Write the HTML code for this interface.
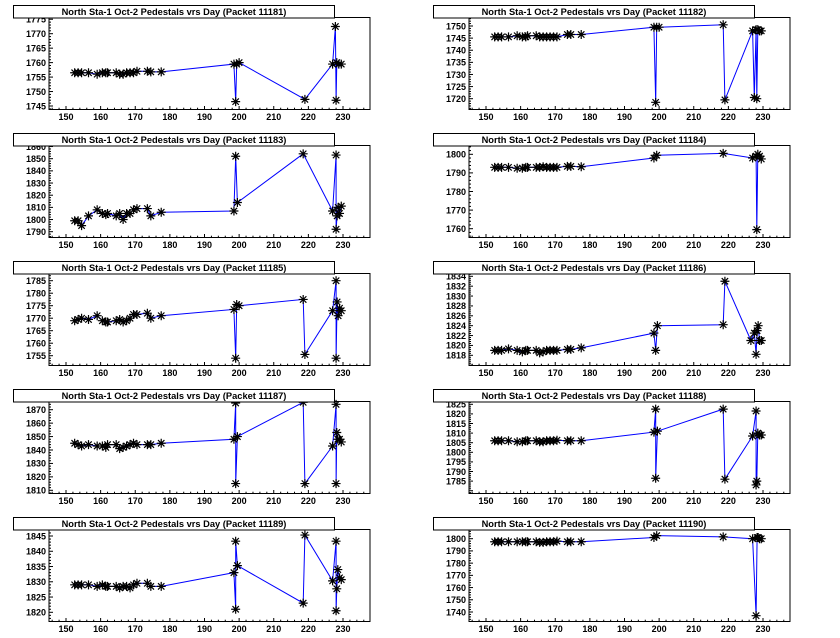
<!DOCTYPE html>
<html><head><meta charset="utf-8">
<style>
html,body{margin:0;padding:0;background:#fff;}
svg{display:block;}
text{font-family:"Liberation Sans",Arial,sans-serif;font-weight:bold;}
</style></head>
<body>
<svg id="s" width="840" height="638" viewBox="0 0 840 638" xmlns="http://www.w3.org/2000/svg"></svg>
<script>
const NS="http://www.w3.org/2000/svg";
const S=document.getElementById('s');
function el(t,a,p){const e=document.createElementNS(NS,t);for(const k in a)e.setAttribute(k,a[k]);(p||S).appendChild(e);return e;}
const early=[152.5,153.5,154.5,156.5,159,160.5,161.5,162,164.5,165.5,166.5,167.5,168.5,169.5,170.5,173.5,174.5,177.5];
const P=[
 {id:11181,y1:1770,p1:33.7,y2:1745,p2:106,st:5,b:[1756.5,1756.5,1756.5,1756.5,1756,1756.5,1756.5,1756.5,1756.5,1756,1756,1756.5,1756.5,1756.5,1757,1757,1756.8,1756.8],
  t:[[198.5,1759.5],[199,1746.5],[199.3,1759.5],[200,1760],[219,1747.3],[227,1759.5],[227.8,1772.5],[228,1747],[228.2,1760],[228.8,1759.5],[229.5,1759.5]]},
 {id:11182,y1:1750,p1:26,y2:1720,p2:98.7,st:5,b:[1745.5,1745.5,1745.5,1745.5,1746,1745.5,1745.5,1746,1746,1745.5,1745.5,1745.5,1745.5,1745.5,1745.5,1746.5,1746.5,1746.5],
  t:[[198.5,1749.5],[199,1718.5],[199.3,1749.5],[200,1749.5],[218.5,1750.5],[219,1719.5],[227,1748],[227.5,1720.5],[228,1748.5],[228.2,1720],[228.5,1748.5],[229,1748],[229.5,1748]]},
 {id:11183,y1:1850,p1:30.7,y2:1790,p2:103.7,st:10,b:[1799,1799,1795,1803,1808,1805,1804,1805,1803,1805,1800,1805,1805,1808,1809,1809,1803,1806],
  t:[[198.5,1807],[199,1852],[199.5,1814],[218.5,1854],[227,1807],[228,1853],[228,1792],[228.3,1803],[228.6,1810],[229,1805],[229.5,1811]]},
 {id:11184,y1:1800,p1:26.3,y2:1760,p2:100.7,st:10,b:[1793,1793,1793,1793,1792.5,1792.5,1793,1793,1793,1793,1793.3,1793,1793,1793,1793,1793.5,1793.5,1793.3],
  t:[[198.5,1798],[199.3,1799.5],[218.5,1800.5],[227,1798],[228,1799],[228.2,1759.5],[228.5,1800],[229,1799],[229.5,1797.5]]},
 {id:11185,y1:1785,p1:24.7,y2:1755,p2:99.7,st:5,b:[1769,1769.5,1770,1769.5,1771,1769,1768.5,1768.5,1769,1769.5,1768.5,1769,1770,1771.5,1771.5,1772,1770,1771],
  t:[[198.5,1773.5],[199,1754],[199.3,1775.5],[200,1775],[218.5,1777.5],[219,1755.5],[227,1773],[228,1785],[228,1754],[228.3,1776.5],[228.6,1771],[229,1774],[229.5,1773]]},
 {id:11186,y1:1834,p1:20.3,y2:1818,p2:99.3,st:2,b:[1819,1819,1819,1819.3,1819,1818.7,1819,1819,1819,1818.5,1818.7,1819,1819,1819,1819,1819.2,1819.2,1819.5],
  t:[[198.5,1822.5],[199,1819],[199.5,1824],[218.5,1824.2],[219,1833],[226.5,1821],[227.5,1822.5],[228,1818.2],[228.3,1823],[228.6,1824],[229,1821],[229.5,1821]]},
 {id:11187,y1:1870,p1:25.7,y2:1810,p2:106.3,st:10,b:[1845,1844,1843,1844,1843,1843,1842,1844,1844,1841,1842,1843,1844,1845,1844,1844,1844,1845],
  t:[[198.5,1848],[199,1875],[199,1815],[199.5,1850],[218.5,1875.5],[219,1815],[227,1843],[228,1874],[228,1815],[228.2,1853],[228.5,1848],[229,1848],[229.5,1846]]},
 {id:11188,y1:1825,p1:20.3,y2:1780,p2:106.7,st:5,b:[1806,1806,1806,1806,1805.5,1805.5,1806,1806,1806,1805.5,1805.5,1806,1806,1806,1806.3,1806,1806,1806],
  t:[[198.5,1810.5],[199,1822.5],[199,1786.5],[199.5,1811],[218.5,1822.5],[219,1786],[227,1808.5],[228,1821.5],[228,1783],[228.2,1785],[228.5,1810],[229,1809],[229.5,1809]]},
 {id:11189,y1:1845,p1:24,y2:1820,p2:100.3,st:5,b:[1829,1829,1829,1829,1828.5,1829,1828.5,1828.5,1828.5,1828,1828.5,1828.5,1828,1829,1829.5,1829.5,1828.5,1828.5],
  t:[[198.5,1833],[199,1821],[199,1843.3],[199.5,1835.3],[218.5,1823],[219,1845.3],[227,1830.3],[228,1843.3],[228,1820.5],[228.2,1827.7],[228.5,1834],[229,1831.3],[229.5,1830.7]]},
 {id:11190,y1:1800,p1:26.7,y2:1740,p2:100,st:10,b:[1797.5,1797.5,1797.5,1797.5,1797.5,1797.5,1797.5,1797.5,1797.5,1797,1797,1797.5,1797.5,1797.5,1798,1797.5,1797.5,1797.5],
  t:[[198.5,1801],[199.3,1802.5],[218.5,1801.5],[227,1800],[228,1737],[228.3,1801],[228.6,1801],[229,1800],[229.5,1800]]}
];
P.forEach((p,i)=>{
  const col=i%2,row=Math.floor(i/2);
  const ox=col*420, oy=row*128;
  const fx0=ox+49,fx1=ox+370,fy0=oy+17.5,fy1=oy+109.5;
  const X=d=>ox+66+(d-150)*3.4625;
  const k=(p.p2-p.p1)/(p.y2-p.y1);
  const Y=v=>oy+p.p1+(v-p.y1)*k;
  const g=el('g',{});
  el('rect',{x:fx0,y:fy0,width:fx1-fx0,height:fy1-fy0,fill:'none',stroke:'#000','stroke-width':1},g);
  for(let d=146;d<=236;d+=2){const x=X(d);if(x<fx0||x>fx1)continue;const maj=d%10==0;
    el('line',{x1:x,y1:fy1,x2:x,y2:fy1-(maj?3.5:1.8),stroke:'#000','stroke-width':1},g);
    if(maj){const t=el('text',{x:x,y:oy+120,'font-size':9,'text-anchor':'middle'},g);t.textContent=d;}}
  const minor=p.st/5;
  const vtop=p.y1+(fy0-oy-p.p1)/k, vbot=p.y1+(fy1-oy-p.p1)/k;
  const lo=Math.min(vtop,vbot),hi=Math.max(vtop,vbot);
  for(let v=Math.ceil(lo/minor)*minor;v<=hi+1e-9;v+=minor){const y=Y(v);
    const r=Math.round(v/minor)%5==0;
    el('line',{x1:fx0,y1:y,x2:fx0+(r?4:2),y2:y,stroke:'#000','stroke-width':1},g);
    if(r && y<fy1-3){const t=el('text',{x:fx0-3,y:y+3.3,'font-size':9,'text-anchor':'end'},g);t.textContent=Math.round(v);}}
  const pts=early.map((x,j)=>[x,p.b[j]]).concat(p.t);
  el('polyline',{points:pts.map(q=>X(q[0]).toFixed(1)+','+Y(q[1]).toFixed(1)).join(' '),fill:'none',stroke:'#0000ff','stroke-width':1},g);
  let dstr='';
  pts.forEach(q=>{const x=X(q[0]),y=Y(q[1]),r=4.5,c=3.2;
    dstr+=`M${x-r},${y}H${x+r}M${x},${y-r}V${y+r}M${x-c},${y-c}L${x+c},${y+c}M${x-c},${y+c}L${x+c},${y-c}`;});
  el('path',{d:dstr,stroke:'#000','stroke-width':1.2,fill:'none'},g);
  el('rect',{x:ox+13.5,y:oy+5.5,width:321,height:12.5,fill:'#fff',stroke:'#000','stroke-width':1},g);
  const t=el('text',{x:ox+174,y:oy+15,'font-size':9.3,'text-anchor':'middle'},g);
  t.textContent='North Sta-1 Oct-2 Pedestals vrs Day (Packet '+p.id+')';
});
</script>
</body></html>
